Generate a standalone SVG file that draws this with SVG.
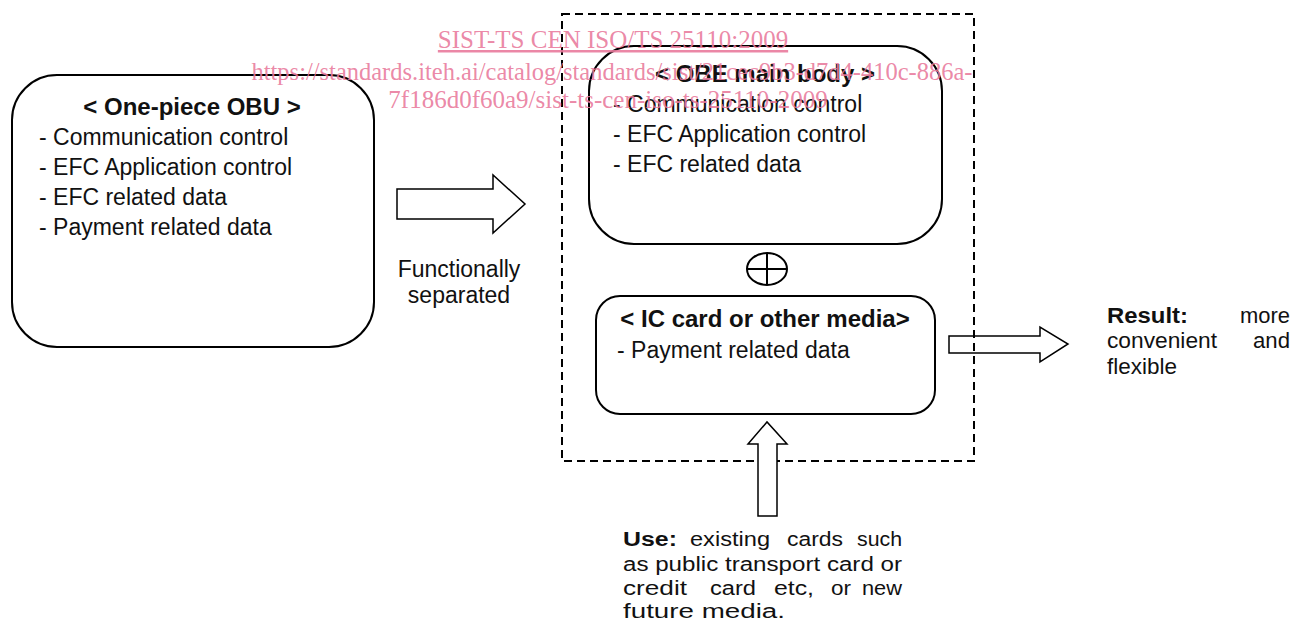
<svg xmlns="http://www.w3.org/2000/svg" width="1295" height="623" viewBox="0 0 1295 623">
<style>
text{font-family:"Liberation Sans",Arial,sans-serif;fill:#111}
.t{font-size:24px;font-weight:bold;text-anchor:middle}
.b{font-size:23px}
.n{font-size:21.5px}
.nb{font-size:21.5px;font-weight:bold}
.u{font-size:20px}
.ub{font-size:20px;font-weight:bold}
.box{fill:none;stroke:#000;stroke-width:2}
.arr{fill:#fff;stroke:#000;stroke-width:1.5;stroke-linejoin:miter}
.wm{font-family:"Liberation Serif","Times New Roman",serif;font-size:25px;fill:#e97a9c;text-anchor:middle;fill-opacity:0.9}
</style>
<rect width="1295" height="623" fill="#fff"/>
<g id="connectors">
<polygon class="arr" points="397,189 493,189 493,175 525,204 493,233 493,219 397,219"/>
<polygon class="arr" points="949,336 1040,336 1040,327 1068,344 1040,362 1040,353 949,353"/>
</g>
<g id="separated-group">
<rect x="562" y="14" width="412" height="447" fill="none" stroke="#000" stroke-width="2" stroke-dasharray="8,5"/>
</g>
<g id="connectors-up">
<polygon class="arr" points="758,516 758,444 748,444 767,422 787,444 777,444 777,516"/>
</g>
<g id="one-piece-obu">
<rect class="box" x="12" y="75" width="362" height="272" rx="45" ry="45"/>
<text class="t" x="192" y="115">&lt; One-piece OBU &gt;</text>
<text class="b" x="39" y="145">- Communication control</text>
<text class="b" x="39" y="175">- EFC Application control</text>
<text class="b" x="39" y="205">- EFC related data</text>
<text class="b" x="39" y="235">- Payment related data</text>
</g>
<g id="functionally-label">
<text class="b" x="459" y="277" text-anchor="middle">Functionally</text>
<text class="b" x="459" y="303" text-anchor="middle">separated</text>
</g>
<g id="obe-main-body">
<rect class="box" x="589" y="46" width="353" height="198" rx="45" ry="45"/>
<text class="t" x="765" y="82">&lt; OBE main body &gt;</text>
<text class="b" x="613" y="112">- Communication control</text>
<text class="b" x="613" y="142">- EFC Application control</text>
<text class="b" x="613" y="172">- EFC related data</text>
</g>
<g id="plus">
<ellipse cx="767" cy="269" rx="20" ry="16" fill="none" stroke="#000" stroke-width="2"/>
<line x1="747" y1="269" x2="787" y2="269" stroke="#000" stroke-width="2"/>
<line x1="767" y1="253" x2="767" y2="285" stroke="#000" stroke-width="2"/>
</g>
<g id="ic-card">
<rect class="box" x="596" y="296" width="339" height="118" rx="24" ry="24"/>
<text class="t" x="765" y="327">&lt; IC card or other media&gt;</text>
<text class="b" x="617" y="358">- Payment related data</text>
</g>
<g id="result-label">
<text class="nb" x="1107" y="323" textLength="81" lengthAdjust="spacingAndGlyphs">Result:</text>
<text class="n" x="1240" y="323" textLength="50" lengthAdjust="spacingAndGlyphs">more</text>
<text class="n" x="1107" y="348" textLength="110" lengthAdjust="spacingAndGlyphs">convenient</text>
<text class="n" x="1253" y="348" textLength="37" lengthAdjust="spacingAndGlyphs">and</text>
<text class="n" x="1107" y="374" textLength="70" lengthAdjust="spacingAndGlyphs">flexible</text>
</g>
<g id="use-label">
<text class="ub" x="623" y="546" textLength="54" lengthAdjust="spacingAndGlyphs">Use:</text>
<text class="u" x="690" y="546" textLength="80" lengthAdjust="spacingAndGlyphs">existing</text>
<text class="u" x="787" y="546" textLength="56" lengthAdjust="spacingAndGlyphs">cards</text>
<text class="u" x="857" y="546" textLength="45" lengthAdjust="spacingAndGlyphs">such</text>
<text class="u" x="623" y="571" textLength="279" lengthAdjust="spacingAndGlyphs">as public transport card or</text>
<text class="u" x="623" y="595" textLength="64" lengthAdjust="spacingAndGlyphs">credit</text>
<text class="u" x="710" y="595" textLength="46" lengthAdjust="spacingAndGlyphs">card</text>
<text class="u" x="774" y="595" textLength="40" lengthAdjust="spacingAndGlyphs">etc,</text>
<text class="u" x="831" y="595" textLength="20" lengthAdjust="spacingAndGlyphs">or</text>
<text class="u" x="862" y="595" textLength="40" lengthAdjust="spacingAndGlyphs">new</text>
<text class="u" x="623" y="618" textLength="162" lengthAdjust="spacingAndGlyphs">future media.</text>
</g>
<g id="watermark">
<text class="wm" x="613" y="48" text-decoration="underline">SIST-TS CEN ISO/TS 25110:2009</text>
<text class="wm" x="612" y="80" textLength="721" lengthAdjust="spacingAndGlyphs">https://standards.iteh.ai/catalog/standards/sist/21cec9b3-d7d4-410c-886a-</text>
<text class="wm" x="608" y="108">7f186d0f60a9/sist-ts-cen-iso-ts-25110-2009</text>
</g>
</svg>
